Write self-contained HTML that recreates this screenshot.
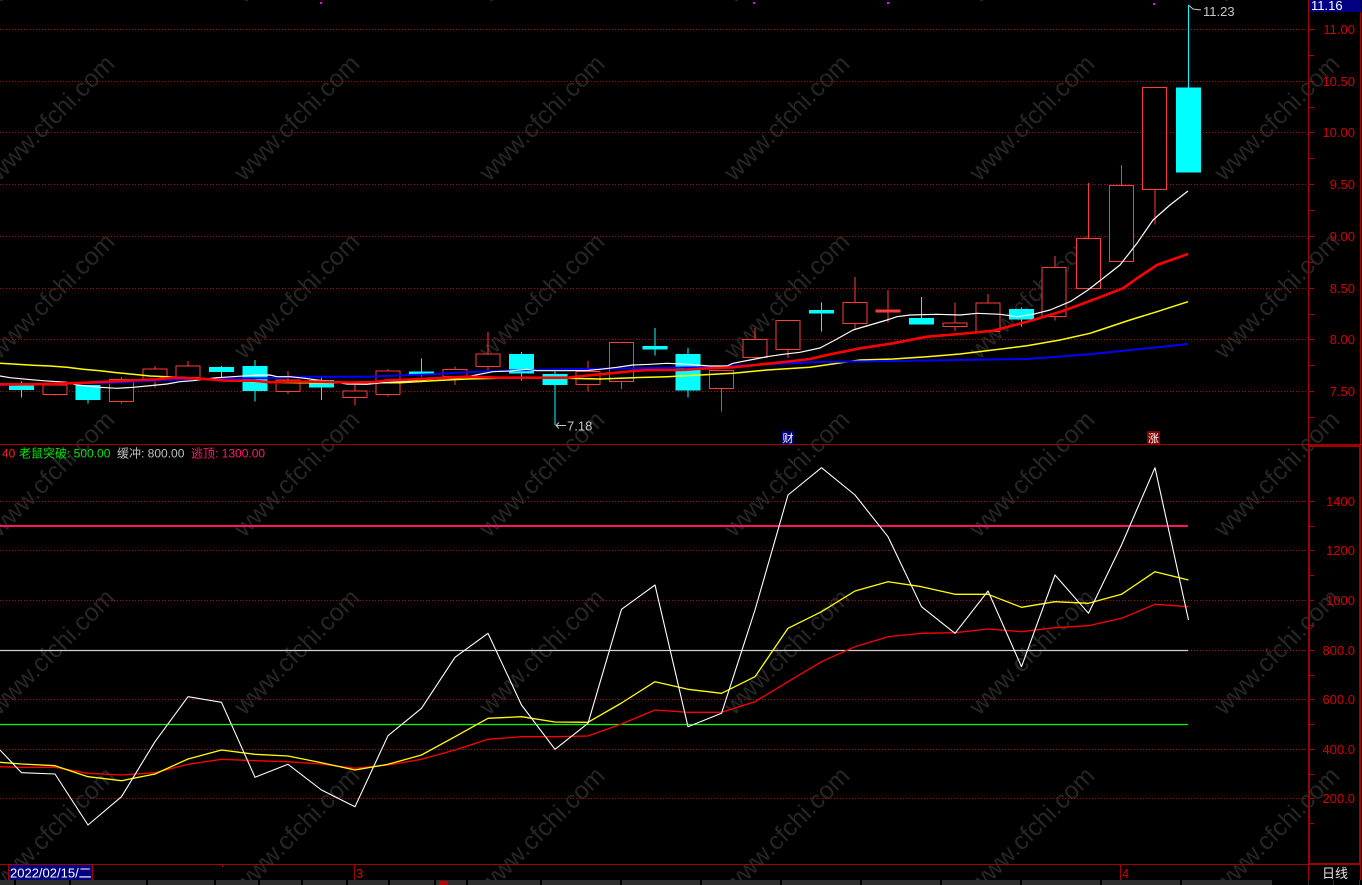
<!DOCTYPE html>
<html><head><meta charset="utf-8"><style>
html,body{margin:0;padding:0;background:#000;}
svg{display:block;}
text{font-family:"Liberation Sans","Noto Sans CJK SC",sans-serif;}
</style></head><body>
<svg width="1362" height="885" viewBox="0 0 1362 885" xmlns="http://www.w3.org/2000/svg">
<rect x="0" y="0" width="1362" height="885" fill="#000"/>

<!-- watermarks -->
<g font-size="25" fill="#262626" text-anchor="middle" dominant-baseline="central">
<text x="52" y="-60" transform="rotate(-45 52 -60)">www.cfchi.com</text>
<text x="297" y="-60" transform="rotate(-45 297 -60)">www.cfchi.com</text>
<text x="542" y="-60" transform="rotate(-45 542 -60)">www.cfchi.com</text>
<text x="787" y="-60" transform="rotate(-45 787 -60)">www.cfchi.com</text>
<text x="1032" y="-60" transform="rotate(-45 1032 -60)">www.cfchi.com</text>
<text x="1277" y="-60" transform="rotate(-45 1277 -60)">www.cfchi.com</text>
<text x="52" y="118" transform="rotate(-45 52 118)">www.cfchi.com</text>
<text x="297" y="118" transform="rotate(-45 297 118)">www.cfchi.com</text>
<text x="542" y="118" transform="rotate(-45 542 118)">www.cfchi.com</text>
<text x="787" y="118" transform="rotate(-45 787 118)">www.cfchi.com</text>
<text x="1032" y="118" transform="rotate(-45 1032 118)">www.cfchi.com</text>
<text x="1277" y="118" transform="rotate(-45 1277 118)">www.cfchi.com</text>
<text x="52" y="296" transform="rotate(-45 52 296)">www.cfchi.com</text>
<text x="297" y="296" transform="rotate(-45 297 296)">www.cfchi.com</text>
<text x="542" y="296" transform="rotate(-45 542 296)">www.cfchi.com</text>
<text x="787" y="296" transform="rotate(-45 787 296)">www.cfchi.com</text>
<text x="1032" y="296" transform="rotate(-45 1032 296)">www.cfchi.com</text>
<text x="1277" y="296" transform="rotate(-45 1277 296)">www.cfchi.com</text>
<text x="52" y="474" transform="rotate(-45 52 474)">www.cfchi.com</text>
<text x="297" y="474" transform="rotate(-45 297 474)">www.cfchi.com</text>
<text x="542" y="474" transform="rotate(-45 542 474)">www.cfchi.com</text>
<text x="787" y="474" transform="rotate(-45 787 474)">www.cfchi.com</text>
<text x="1032" y="474" transform="rotate(-45 1032 474)">www.cfchi.com</text>
<text x="1277" y="474" transform="rotate(-45 1277 474)">www.cfchi.com</text>
<text x="52" y="652" transform="rotate(-45 52 652)">www.cfchi.com</text>
<text x="297" y="652" transform="rotate(-45 297 652)">www.cfchi.com</text>
<text x="542" y="652" transform="rotate(-45 542 652)">www.cfchi.com</text>
<text x="787" y="652" transform="rotate(-45 787 652)">www.cfchi.com</text>
<text x="1032" y="652" transform="rotate(-45 1032 652)">www.cfchi.com</text>
<text x="1277" y="652" transform="rotate(-45 1277 652)">www.cfchi.com</text>
<text x="52" y="830" transform="rotate(-45 52 830)">www.cfchi.com</text>
<text x="297" y="830" transform="rotate(-45 297 830)">www.cfchi.com</text>
<text x="542" y="830" transform="rotate(-45 542 830)">www.cfchi.com</text>
<text x="787" y="830" transform="rotate(-45 787 830)">www.cfchi.com</text>
<text x="1032" y="830" transform="rotate(-45 1032 830)">www.cfchi.com</text>
<text x="1277" y="830" transform="rotate(-45 1277 830)">www.cfchi.com</text>
</g>

<!-- dotted grid -->
<g stroke="#b00000" stroke-width="1" stroke-dasharray="1 2" shape-rendering="crispEdges">
<line x1="0" y1="29.5" x2="1306" y2="29.5"/>
<line x1="0" y1="81.5" x2="1306" y2="81.5"/>
<line x1="0" y1="132.5" x2="1306" y2="132.5"/>
<line x1="0" y1="184.5" x2="1306" y2="184.5"/>
<line x1="0" y1="236.5" x2="1306" y2="236.5"/>
<line x1="0" y1="288.5" x2="1306" y2="288.5"/>
<line x1="0" y1="339.5" x2="1306" y2="339.5"/>
<line x1="0" y1="391.5" x2="1306" y2="391.5"/>
<line x1="0" y1="501.5" x2="1306" y2="501.5"/>
<line x1="0" y1="550.5" x2="1306" y2="550.5"/>
<line x1="0" y1="600.5" x2="1306" y2="600.5"/>
<line x1="0" y1="650.5" x2="1306" y2="650.5"/>
<line x1="0" y1="699.5" x2="1306" y2="699.5"/>
<line x1="0" y1="749.5" x2="1306" y2="749.5"/>
<line x1="0" y1="798.5" x2="1306" y2="798.5"/>
</g>

<!-- candles -->
<g shape-rendering="crispEdges">
<g stroke="#00ffff" stroke-width="1">
<line x1="21.5" y1="381.7" x2="21.5" y2="397.7"/>
<line x1="88" y1="385" x2="88" y2="403.7"/>
<line x1="221.5" y1="366" x2="221.5" y2="377"/>
<line x1="255" y1="360" x2="255" y2="401.7"/>
<line x1="321.5" y1="377.7" x2="321.5" y2="400"/>
<line x1="421.5" y1="358.3" x2="421.5" y2="376.7"/>
<line x1="521.5" y1="352" x2="521.5" y2="380.7"/>
<line x1="555" y1="371.7" x2="555" y2="425"/>
<line x1="655" y1="328" x2="655" y2="355.7"/>
<line x1="688" y1="348" x2="688" y2="397.7"/>
<line x1="821.5" y1="302.7" x2="821.5" y2="331.7"/>
<line x1="921.5" y1="297" x2="921.5" y2="324.7"/>
<line x1="1021.5" y1="307.7" x2="1021.5" y2="326.3"/>
<line x1="1188.5" y1="5" x2="1188.5" y2="172.7"/>
</g>
<g fill="#00ffff">
<rect x="9" y="383.3" width="25" height="6.7"/>
<rect x="75.5" y="385" width="25" height="15"/>
<rect x="209" y="367" width="25" height="5"/>
<rect x="242.5" y="366" width="25" height="25"/>
<rect x="309" y="380" width="25" height="7.7"/>
<rect x="409" y="371.5" width="25" height="3"/>
<rect x="509" y="354" width="25" height="19.3"/>
<rect x="542.5" y="374" width="25" height="11"/>
<rect x="642.5" y="346" width="25" height="3.7"/>
<rect x="675.5" y="354" width="25" height="36.7"/>
<rect x="809" y="310" width="25" height="3.7"/>
<rect x="909" y="318" width="25" height="6.7"/>
<rect x="1009" y="309" width="25" height="10.3"/>
<rect x="1176" y="87.3" width="25" height="85.4"/>
</g>
<g stroke="#ff3b3b" stroke-width="1">
<line x1="55" y1="385" x2="55" y2="395.7"/>
<line x1="121.5" y1="377" x2="121.5" y2="403.3"/>
<line x1="155" y1="366" x2="155" y2="387.7"/>
<line x1="188" y1="361" x2="188" y2="377.7"/>
<line x1="288" y1="371" x2="288" y2="394"/>
<line x1="355" y1="385" x2="355" y2="405.7"/>
<line x1="388" y1="369" x2="388" y2="396.7"/>
<line x1="455" y1="366.7" x2="455" y2="385"/>
<line x1="488" y1="332" x2="488" y2="370"/>
<line x1="588" y1="361" x2="588" y2="391.7"/>
<line x1="621.5" y1="342.3" x2="621.5" y2="389"/>
<line x1="721.5" y1="370.3" x2="721.5" y2="411.7"/>
<line x1="755" y1="328" x2="755" y2="357.7"/>
<line x1="788" y1="320.3" x2="788" y2="358"/>
<line x1="855" y1="277" x2="855" y2="329.3"/>
<line x1="888" y1="290" x2="888" y2="322.7"/>
<line x1="955" y1="302.7" x2="955" y2="331"/>
<line x1="988" y1="294" x2="988" y2="331.3"/>
<line x1="1055" y1="256" x2="1055" y2="320.7"/>
<line x1="1088.5" y1="183" x2="1088.5" y2="288.3"/>
<line x1="1121.5" y1="165" x2="1121.5" y2="261.3"/>
<line x1="1155" y1="87.3" x2="1155" y2="224.3"/>
</g>
<g stroke="#ff3b3b" stroke-width="1" fill="#000">
<rect x="43" y="385" width="24" height="9.3"/>
<rect x="109.5" y="379.3" width="24" height="22.4"/>
<rect x="143" y="369" width="24" height="10"/>
<rect x="176" y="366" width="24" height="11.7"/>
<rect x="276" y="380" width="24" height="11.7"/>
<rect x="343" y="391" width="24" height="6.7"/>
<rect x="376" y="371" width="24" height="23.3"/>
<rect x="443" y="369.3" width="24" height="7.4"/>
<rect x="476" y="354" width="24" height="12.7"/>
<rect x="576" y="371.7" width="24" height="12.6"/>
<rect x="609.5" y="342.3" width="24" height="39.4"/>
<rect x="709.5" y="370.3" width="24" height="18.4"/>
<rect x="743" y="339.3" width="24" height="18.4"/>
<rect x="776" y="320.3" width="24" height="29"/>
<rect x="843" y="302.3" width="24" height="21"/>
<rect x="876" y="310" width="24" height="2" fill="#ff3b3b"/>
<rect x="943" y="323" width="24" height="3.3"/>
<rect x="976" y="303" width="24" height="28.3"/>
<rect x="1042" y="267.3" width="24" height="49"/>
<rect x="1076.5" y="238.3" width="24" height="50"/>
<rect x="1109.5" y="185.3" width="24" height="76"/>
<rect x="1142.5" y="87.3" width="24" height="102"/>
</g>
</g>

<!-- MA lines top -->
<g fill="none" stroke-linejoin="round">
<polyline stroke="#ffff00" stroke-width="1.5" points="0,363.3 17,364.3 33,365.3 50,366 67,367.3 83,369.3 100,370.7 117,372.7 133,374.3 150,376 167,376.7 200,378.3 233,380.7 267,382.3 300,382.7 400,382.7 433,380.7 467,379 500,378.3 567,378.3 600,379 633,377.7 667,376.7 700,375 733,373.3 767,370 810,367.3 860,360 893,359 927,356.7 960,354 993,350 1027,345.7 1060,340 1090,333.3 1100,330 1130,320 1157,311.7 1188,301.7"/>
<polyline stroke="#0000ff" stroke-width="2" points="0,385 33,384.3 67,383.3 100,383.3 133,381.7 167,380 200,379 233,378.3 267,378.3 293,376.7 367,376.7 403,375.3 433,374.3 467,372.3 500,370.7 567,369.3 633,368.3 700,367.3 733,366 767,364.3 820,362 893,361 960,360 1027,359 1090,354.3 1188,344"/>
<polyline stroke="#ffffff" stroke-width="1.2" points="0,376 10,377.7 27,379.3 43,380.7 67,382.3 77,385 100,387.3 117,388.3 133,387.3 147,386 167,384 180,381.7 193,380.7 203,379.3 217,377.7 233,376.7 253,375.3 270,375 277,376.7 290,376.7 305,378.3 317,380 333,381.7 347,384 367,384.3 383,382.7 400,381.7 413,380.7 443,378.3 457,378.3 467,376.7 493,371.7 510,371 527,369.3 537,370.7 567,370.7 587,370.5 600,369.3 617,367.3 633,365 650,364.3 667,363.3 683,364 710,366 727,366 733,363.3 750,360 767,356.7 783,354.3 800,352.3 820,348 837,339 853,330 870,325 887,320 897,316.7 910,315 937,314.3 960,315 977,313.3 1000,314.3 1017,316.7 1033,314.3 1050,310 1070,301.7 1088,290 1120,265 1137,243.3 1153,220 1170,205 1188,191"/>
<polyline stroke="#ff0000" stroke-width="2.6" points="0,384.3 33,384.3 67,383.3 87,382.7 107,381.7 140,380 157,379.3 173,377.7 200,378.7 227,380.7 253,380.7 270,382.3 290,381.5 320,381.7 350,382.5 375,382 390,380 400,380 433,378.3 467,376.7 500,377.7 567,377.7 583,376 600,374.3 617,372.7 633,371 650,370 683,370 700,368.7 733,367.3 760,364.5 793,361 810,359 827,355 860,348.3 893,343.3 927,336.7 960,334 993,330.7 1030,321 1063,311 1097,298.3 1123,288.3 1137,278.3 1157,265 1173,259.3 1188,254"/>
</g>

<!-- annotations top -->
<g stroke="#c8c8c8" stroke-width="1" fill="none">
<polyline points="1188.5,5 1193,9 1201,10"/>
<line x1="556" y1="425.5" x2="566" y2="425.5"/>
<polyline points="559,422.5 556,425.5 559,428.5"/>
</g>
<text x="1203" y="16" font-size="13" fill="#c8c8c8">11.23</text>
<text x="567" y="430.5" font-size="13" fill="#c8c8c8">7.18</text>
<g fill="#ff00ff">
<rect x="320" y="2" width="2" height="2"/>
<rect x="753" y="2" width="2" height="2"/>
<rect x="887" y="2" width="2" height="2"/>
<rect x="1153" y="3" width="2" height="2"/>
</g>
<rect x="782" y="431" width="12" height="13" fill="#000080"/>
<text x="788" y="442" font-size="11" fill="#ffffff" text-anchor="middle">财</text>
<rect x="1147" y="431" width="13" height="13" fill="#800000"/>
<text x="1153.5" y="442" font-size="11" fill="#ffffff" text-anchor="middle">涨</text>

<!-- bottom panel reference lines -->
<line x1="0" y1="526" x2="1188" y2="526" stroke="#ff1464" stroke-width="2"/>
<line x1="0" y1="650.5" x2="1188" y2="650.5" stroke="#d0d0d0" stroke-width="1.2"/>
<line x1="0" y1="724.5" x2="1188" y2="724.5" stroke="#00ff00" stroke-width="1.2"/>

<!-- bottom panel lines -->
<g fill="none" stroke-linejoin="round">
<polyline stroke="#ff0000" stroke-width="1.3" points="0,766.7 21.5,767.3 55,767.3 88,773.3 121.5,775 155,772.7 188,764.3 221.5,759.3 255,760.7 288,761.7 321.5,764 355,768.3 388,765 421.5,759.3 455,750 488,739.3 521.5,736.7 555,736.7 588,736 621.5,724 655,710 688,712.3 721.5,712.3 755,701.7 788,681.7 821.5,661.7 855,646.7 888,636.7 921.5,633.3 955,632.7 988,629 1021.5,631.7 1055,627.7 1088.5,625.7 1121.5,618.3 1155,604.3 1188.5,606.7"/>
<polyline stroke="#ffff00" stroke-width="1.3" points="0,762.3 21.5,764 55,765.7 88,776.7 121.5,780.7 155,774 188,759 221.5,750 255,754.3 288,756 321.5,762.7 355,770 388,764.3 421.5,755 455,736.7 488,718.3 521.5,716.7 555,722 588,722.3 621.5,703 655,681.7 688,689.3 721.5,693.3 755,676.7 788,628.3 821.5,611.7 855,591 888,581.7 921.5,586.7 955,594.3 988,594.3 1021.5,607.3 1055,601.7 1088.5,603.3 1121.5,594.3 1155,571.7 1188.5,580"/>
<polyline stroke="#ffffff" stroke-width="1.1" points="0,750 21.5,772.7 55,774 88,825 121.5,796.7 155,741.7 188,696.7 221.5,702.3 255,777.3 288,764.3 321.5,790 355,806.7 388,735.7 421.5,708.3 455,657.3 488,633.3 521.5,705 555,749.3 588,723.3 621.5,609.3 655,585 688,726.7 721.5,713.3 755,610 788,495 821.5,467.7 855,495 888,536.7 921.5,606.7 955,633.3 988,591 1021.5,666.7 1055,575 1088.5,613.3 1121.5,545 1155,467.7 1188.5,620"/>
</g>

<!-- legend -->
<g font-size="12">
<text x="2" y="457.5" fill="#ff2020">40</text>
<text x="19" y="457.5" fill="#00e600">老鼠突破: 500.00</text>
<text x="117" y="457.5" fill="#c0c0c0">缓冲: 800.00</text>
<text x="191" y="457.5" fill="#ff1a66">逃顶: 1300.00</text>
</g>

<!-- frame & axes -->
<g stroke="#a00000" stroke-width="1" shape-rendering="crispEdges" fill="none">
<line x1="0" y1="444.5" x2="1362" y2="444.5"/>
<line x1="0" y1="864.5" x2="1308" y2="864.5"/>
<line x1="1308.5" y1="0" x2="1308.5" y2="880"/>
<line x1="1360.5" y1="0" x2="1360.5" y2="880"/>
<rect x="1309" y="446" width="51" height="418" stroke-width="2"/>
<line x1="1309" y1="29.5" x2="1314" y2="29.5"/>
<line x1="1309" y1="55.5" x2="1314" y2="55.5"/>
<line x1="1309" y1="81.5" x2="1314" y2="81.5"/>
<line x1="1309" y1="107.5" x2="1314" y2="107.5"/>
<line x1="1309" y1="132.5" x2="1314" y2="132.5"/>
<line x1="1309" y1="158.5" x2="1314" y2="158.5"/>
<line x1="1309" y1="184.5" x2="1314" y2="184.5"/>
<line x1="1309" y1="210.5" x2="1314" y2="210.5"/>
<line x1="1309" y1="236.5" x2="1314" y2="236.5"/>
<line x1="1309" y1="262.5" x2="1314" y2="262.5"/>
<line x1="1309" y1="288.5" x2="1314" y2="288.5"/>
<line x1="1309" y1="314.5" x2="1314" y2="314.5"/>
<line x1="1309" y1="339.5" x2="1314" y2="339.5"/>
<line x1="1309" y1="365.5" x2="1314" y2="365.5"/>
<line x1="1309" y1="391.5" x2="1314" y2="391.5"/>
<line x1="1309" y1="417.5" x2="1314" y2="417.5"/>
<line x1="1309" y1="501.5" x2="1314" y2="501.5"/>
<line x1="1309" y1="526.5" x2="1314" y2="526.5"/>
<line x1="1309" y1="550.5" x2="1314" y2="550.5"/>
<line x1="1309" y1="575.5" x2="1314" y2="575.5"/>
<line x1="1309" y1="600.5" x2="1314" y2="600.5"/>
<line x1="1309" y1="625.5" x2="1314" y2="625.5"/>
<line x1="1309" y1="650.5" x2="1314" y2="650.5"/>
<line x1="1309" y1="675.5" x2="1314" y2="675.5"/>
<line x1="1309" y1="699.5" x2="1314" y2="699.5"/>
<line x1="1309" y1="724.5" x2="1314" y2="724.5"/>
<line x1="1309" y1="749.5" x2="1314" y2="749.5"/>
<line x1="1309" y1="774.5" x2="1314" y2="774.5"/>
<line x1="1309" y1="798.5" x2="1314" y2="798.5"/>
<line x1="1309" y1="823.5" x2="1314" y2="823.5"/>
<line x1="222.5" y1="864" x2="222.5" y2="867"/>
<line x1="354.5" y1="864" x2="354.5" y2="880"/>
<line x1="1120.5" y1="864" x2="1120.5" y2="880"/>
<line x1="8.5" y1="865" x2="8.5" y2="880"/>
<line x1="92.5" y1="865" x2="92.5" y2="880"/>
</g>

<!-- axis labels -->
<g font-size="13" fill="#d00000" text-anchor="end">
<text x="1355" y="34">11.00</text>
<text x="1355" y="86">10.50</text>
<text x="1355" y="137">10.00</text>
<text x="1355" y="189">9.50</text>
<text x="1355" y="241">9.00</text>
<text x="1355" y="293">8.50</text>
<text x="1355" y="344">8.00</text>
<text x="1355" y="396">7.50</text>
<text x="1355" y="506">1400</text>
<text x="1355" y="555">1200</text>
<text x="1355" y="605">1000</text>
<text x="1355" y="655">800.0</text>
<text x="1355" y="704">600.0</text>
<text x="1355" y="754">400.0</text>
<text x="1355" y="803">200.0</text>
</g>

<!-- top price box -->
<rect x="1309" y="0" width="52" height="12" fill="#000080"/>
<text x="1311" y="10" font-size="13" fill="#ffffff">11.16</text>

<!-- bottom axis strip -->
<rect x="9" y="865" width="83" height="15" fill="#000080"/>
<text x="10" y="877.5" font-size="13" fill="#ffffff">2022/02/15/二</text>
<text x="356" y="878" font-size="13" fill="#d00000">3</text>
<text x="1122" y="878" font-size="13" fill="#d00000">4</text>
<text x="1322" y="878" font-size="13" fill="#e0e0e0">日线</text>

<!-- tab strip -->
<rect x="0" y="880" width="1272" height="5" fill="#2e2e2e"/>
<g fill="#000">
<rect x="14" y="880" width="2" height="5"/>
<rect x="69" y="880" width="2" height="5"/>
<rect x="146" y="880" width="2" height="5"/>
<rect x="214" y="880" width="2" height="5"/>
<rect x="258" y="880" width="2" height="5"/>
<rect x="301" y="880" width="2" height="5"/>
<rect x="346" y="880" width="2" height="5"/>
<rect x="388" y="880" width="2" height="5"/>
<rect x="434" y="880" width="2" height="5"/>
<rect x="466" y="880" width="2" height="5"/>
<rect x="540" y="880" width="2" height="5"/>
<rect x="620" y="880" width="2" height="5"/>
<rect x="700" y="880" width="2" height="5"/>
<rect x="780" y="880" width="2" height="5"/>
<rect x="860" y="880" width="2" height="5"/>
<rect x="940" y="880" width="2" height="5"/>
<rect x="1020" y="880" width="2" height="5"/>
<rect x="1100" y="880" width="2" height="5"/>
<rect x="1180" y="880" width="2" height="5"/>
</g>
<rect x="439" y="881" width="9" height="4" fill="#c00000"/>
<g stroke="#2e2e2e" stroke-width="1">
<line x1="1308.5" y1="880" x2="1308.5" y2="885"/>
<line x1="1333.5" y1="880" x2="1333.5" y2="885"/>
<line x1="1359.5" y1="880" x2="1359.5" y2="885"/>
</g>
</svg>
</body></html>
